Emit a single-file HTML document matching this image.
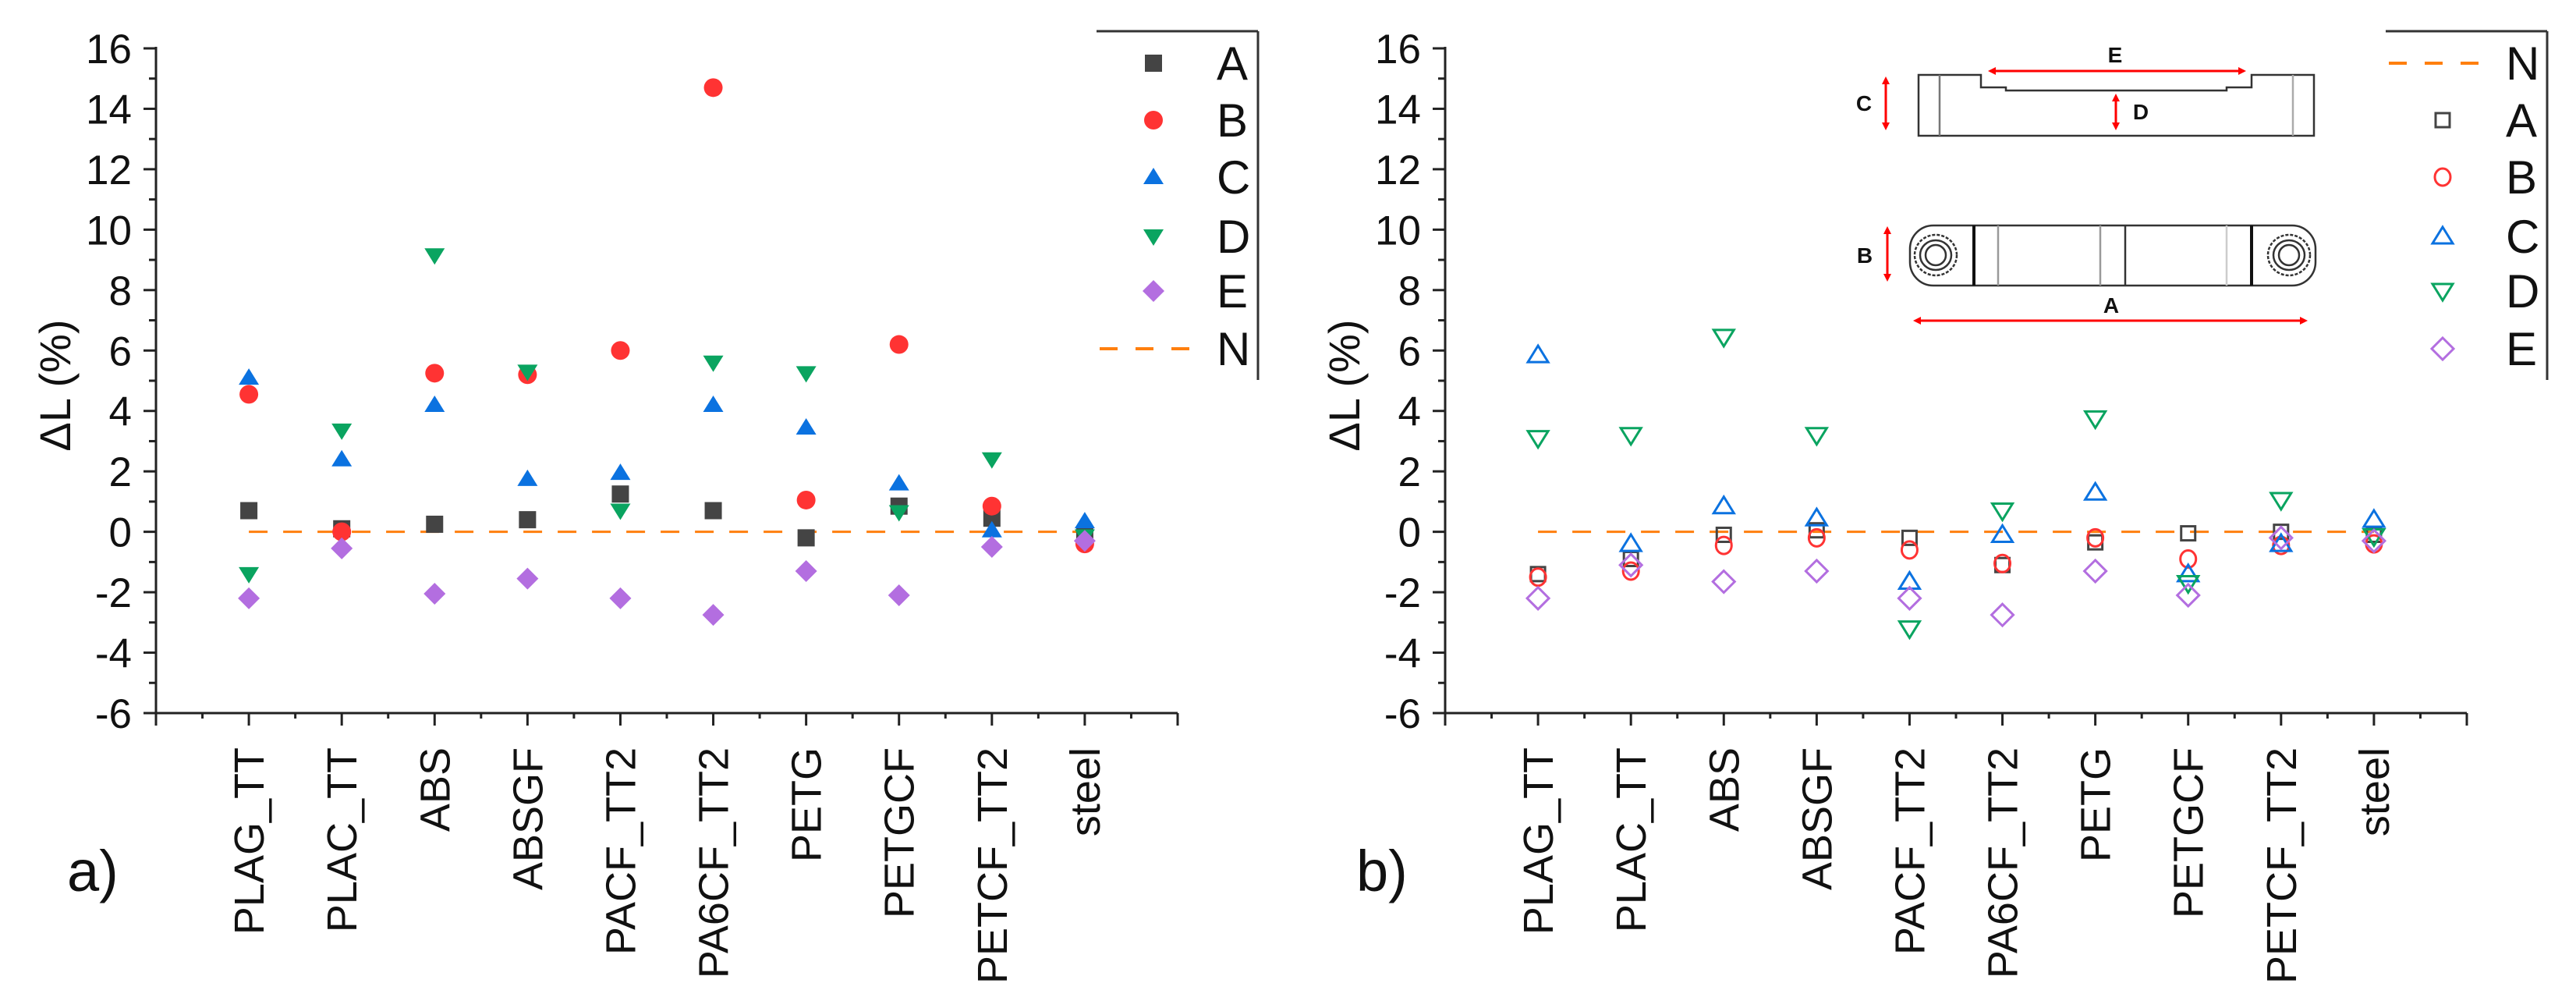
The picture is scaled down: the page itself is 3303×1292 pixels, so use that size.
<!DOCTYPE html>
<html><head><meta charset="utf-8"><style>
html,body{margin:0;padding:0;background:#fff;}
svg{display:block;font-family:"Liberation Sans",Arial,sans-serif;}
</style></head><body>
<svg id="fig" width="3303" height="1292" viewBox="0 0 3303 1292" xmlns="http://www.w3.org/2000/svg">
<g id="panelA"></g>
<g id="panelB"></g>
<g id="inset" fill="none" stroke="#333" stroke-width="2.5">
  <path d="M2460 96 H2540 V112 H2572 V116 H2855 V112 H2887 V96 H2967 V174 H2460 Z"/>
  <line x1="2487" y1="96" x2="2487" y2="174" stroke="#777"/>
  <line x1="2940" y1="96" x2="2940" y2="174" stroke="#aaa"/>
  <rect x="2449" y="289" width="520" height="77" rx="30" ry="30"/>
  <line x1="2531" y1="289" x2="2531" y2="366" stroke-width="4" stroke="#111"/>
  <line x1="2562" y1="289" x2="2562" y2="366" stroke="#999"/>
  <line x1="2693" y1="289" x2="2693" y2="366" stroke="#999"/>
  <line x1="2725" y1="289" x2="2725" y2="366"/>
  <line x1="2855" y1="289" x2="2855" y2="366" stroke="#ccc"/>
  <line x1="2887" y1="289" x2="2887" y2="366" stroke-width="4" stroke="#111"/>
  <ellipse cx="2482" cy="327" rx="27" ry="26" stroke-dasharray="4 2"/>
  <ellipse cx="2482" cy="327" rx="20" ry="19"/>
  <ellipse cx="2482" cy="327" rx="13" ry="13"/>
  <ellipse cx="2935" cy="327" rx="27" ry="26" stroke-dasharray="4 2"/>
  <ellipse cx="2935" cy="327" rx="20" ry="19"/>
  <ellipse cx="2935" cy="327" rx="13" ry="13"/>
  <g stroke="#f00" stroke-width="3" fill="#f00">
    <line x1="2555" y1="91" x2="2874" y2="91"/><path d="M2549 91 l10 -5 v10z M2880 91 l-10 -5 v10z" stroke="none"/>
    <line x1="2418" y1="104" x2="2418" y2="161"/><path d="M2418 98 l-5 10 h10z M2418 167 l-5 -10 h10z" stroke="none"/>
    <line x1="2713" y1="126" x2="2713" y2="161"/><path d="M2713 120 l-5 10 h10z M2713 167 l-5 -10 h10z" stroke="none"/>
    <line x1="2420" y1="296" x2="2420" y2="355"/><path d="M2420 290 l-5 10 h10z M2420 361 l-5 -10 h10z" stroke="none"/>
    <line x1="2459" y1="411" x2="2953" y2="411"/><path d="M2453 411 l10 -5 v10z M2959 411 l-10 -5 v10z" stroke="none"/>
  </g>
  <g fill="#111" stroke="none" font-weight="bold" font-size="28" text-anchor="middle">
    <text x="2712" y="80">E</text>
    <text x="2390" y="142">C</text>
    <text x="2745" y="153">D</text>
    <text x="2391" y="337">B</text>
    <text x="2707" y="401">A</text>
  </g>
</g>
</svg>
<script>
const categories = ["PLAG_TT","PLAC_TT","ABS","ABSGF","PACF_TT2","PA6CF_TT2","PETG","PETGCF","PETCF_TT2","steel"];
const seriesNames = ["A","B","C","D","E"];
const yTicks = [-6,-4,-2,0,2,4,6,8,10,12,14,16];
const nominal = 0;
const aA = [0.7,0.1,0.25,0.4,1.25,0.7,-0.2,0.85,0.45,-0.1];
const aB = [4.55,0.0,5.25,5.2,6.0,14.7,1.05,6.2,0.85,-0.4];
const aC = [5.1,2.4,4.2,1.75,1.95,4.2,3.45,1.6,0.05,0.35];
const aD = [-1.4,3.35,9.15,5.3,0.7,5.6,5.25,0.65,2.4,-0.15];
const aE = [-2.2,-0.55,-2.05,-1.55,-2.2,-2.75,-1.3,-2.1,-0.5,-0.3];
const bA = [-1.4,-0.9,-0.1,0.05,-0.2,-1.1,-0.35,-0.05,0.0,-0.1];
const bB = [-1.5,-1.3,-0.45,-0.2,-0.6,-1.05,-0.2,-0.9,-0.45,-0.4];
const bC = [5.85,-0.4,0.85,0.45,-1.65,-0.1,1.3,-1.4,-0.4,0.4];
const bD = [3.1,3.2,6.45,3.2,-3.2,0.7,3.75,-1.7,1.05,-0.15];
const bE = [-2.2,-1.1,-1.65,-1.3,-2.2,-2.75,-1.3,-2.1,-0.2,-0.3];

const NS="http://www.w3.org/2000/svg";
const colors={A:"#444",B:"#ff3333",C:"#0b72e0",D:"#0aa460",E:"#b36ee0"};
function el(tag,attrs,parent){const e=document.createElementNS(NS,tag);for(const k in attrs)e.setAttribute(k,attrs[k]);parent.appendChild(e);return e;}

function marker(g,s,x,y,filled){
  const c=colors[s];
  const st=filled?{fill:c,stroke:"none"}:{fill:"none",stroke:c,"stroke-width":3};
  let m;
  if(s==="A") m=el("rect",Object.assign({x:x-(filled?11:9),y:y-(filled?11:9),width:filled?22:18,height:filled?22:18},st),g);
  else if(s==="B") m=el("ellipse",Object.assign({cx:x,cy:y,rx:filled?12:10,ry:filled?12:11},st),g);
  else if(s==="C") m=el("path",Object.assign({d:`M${x} ${y-12} L${x+13} ${y+9} L${x-13} ${y+9} Z`},st),g);
  else if(s==="D") m=el("path",Object.assign({d:`M${x} ${y+12} L${x+13} ${y-9} L${x-13} ${y-9} Z`},st),g);
  else m=el("path",Object.assign({d:`M${x} ${y-14} L${x+14} ${y} L${x} ${y+14} L${x-14} ${y} Z`},st),g);
  return m;
}

function drawPanel(g,ox,data,filled,letter,legendOrder){
  const X0=ox+200, X1=ox+1510, Y0=914, Y1=62;
  const sx=v=>X0+(v+1)*(X1-X0)/11;
  const sy=v=>Y0-(v+6)*(Y0-Y1)/22;
  const ax=el("g",{stroke:"#222","stroke-width":3},g);
  
  
  el("line",{x1:X0,y1:Y1-2,x2:X0,y2:Y0+16},ax);
  el("line",{x1:X0-2,y1:Y0,x2:X1,y2:Y0},ax);
  for(let v=-6;v<=16;v++){const y=sy(v);el("line",{x1:X0-(v%2===0?16:9),y1:y,x2:X0,y2:y},ax);}
  for(let i=-0.5;i<=10;i+=0.5){const x=sx(i);const maj=Number.isInteger(i);el("line",{x1:x,y1:Y0,x2:x,y2:Y0+(maj?16:7)},ax);}
  yTicks.forEach(v=>{const t=el("text",{x:X0-31,y:sy(v)+19,"font-size":53,"text-anchor":"end",fill:"#111"},g);t.textContent=v;
    
    });
  categories.forEach((c,i)=>{const x=sx(i)+19;const t=el("text",{x:x,y:958,"font-size":54,"text-anchor":"end",fill:"#111",transform:`rotate(-90 ${x} 958)`},g);t.textContent=c;
    
    });
  const yt=el("text",{x:ox+90,y:494,"font-size":56,"text-anchor":"middle",fill:"#111",transform:`rotate(-90 ${ox+90} 494)`},g);yt.textContent="ΔL (%)";
  
  
  const pl=el("text",{x:ox+86,y:1142,"font-size":74,fill:"#111"},g);pl.textContent=letter;
  
  
  const nl=el("line",{x1:sx(0),y1:sy(nominal),x2:sx(9),y2:sy(nominal),stroke:"#ff7f0e","stroke-width":3,"stroke-dasharray":"24 20"},g);
  
  
  seriesNames.forEach((s,k)=>{data[k].forEach((v,i)=>{const m=marker(g,s,sx(i),sy(v),filled);
    
    });});
  // legend
  const lg=el("g",{},g);
  
  
  el("line",{x1:ox+1406,y1:40,x2:ox+1613,y2:40,stroke:"#333","stroke-width":3},lg);
  el("line",{x1:ox+1613,y1:40,x2:ox+1613,y2:487,stroke:"#333","stroke-width":3},lg);
  const rows=[81,154,227,303,373,447];
  legendOrder.forEach((s,r)=>{const y=rows[r];
    let m;
    if(s==="N"){m=el("line",{x1:ox+1410,y1:y,x2:ox+1527,y2:y,stroke:"#ff7f0e","stroke-width":4,"stroke-dasharray":"23 23"},lg);}
    else m=marker(lg,s,ox+1479,y,filled);
    
    
    const t=el("text",{x:ox+1560,y:y+21,"font-size":60,fill:"#111"},lg);t.textContent=s;
    
    
  });
}
drawPanel(document.getElementById("panelA"),0,[aA,aB,aC,aD,aE],true,"a)",["A","B","C","D","E","N"]);
drawPanel(document.getElementById("panelB"),1653,[bA,bB,bC,bD,bE],false,"b)",["N","A","B","C","D","E"]);
</script>
</body></html>
